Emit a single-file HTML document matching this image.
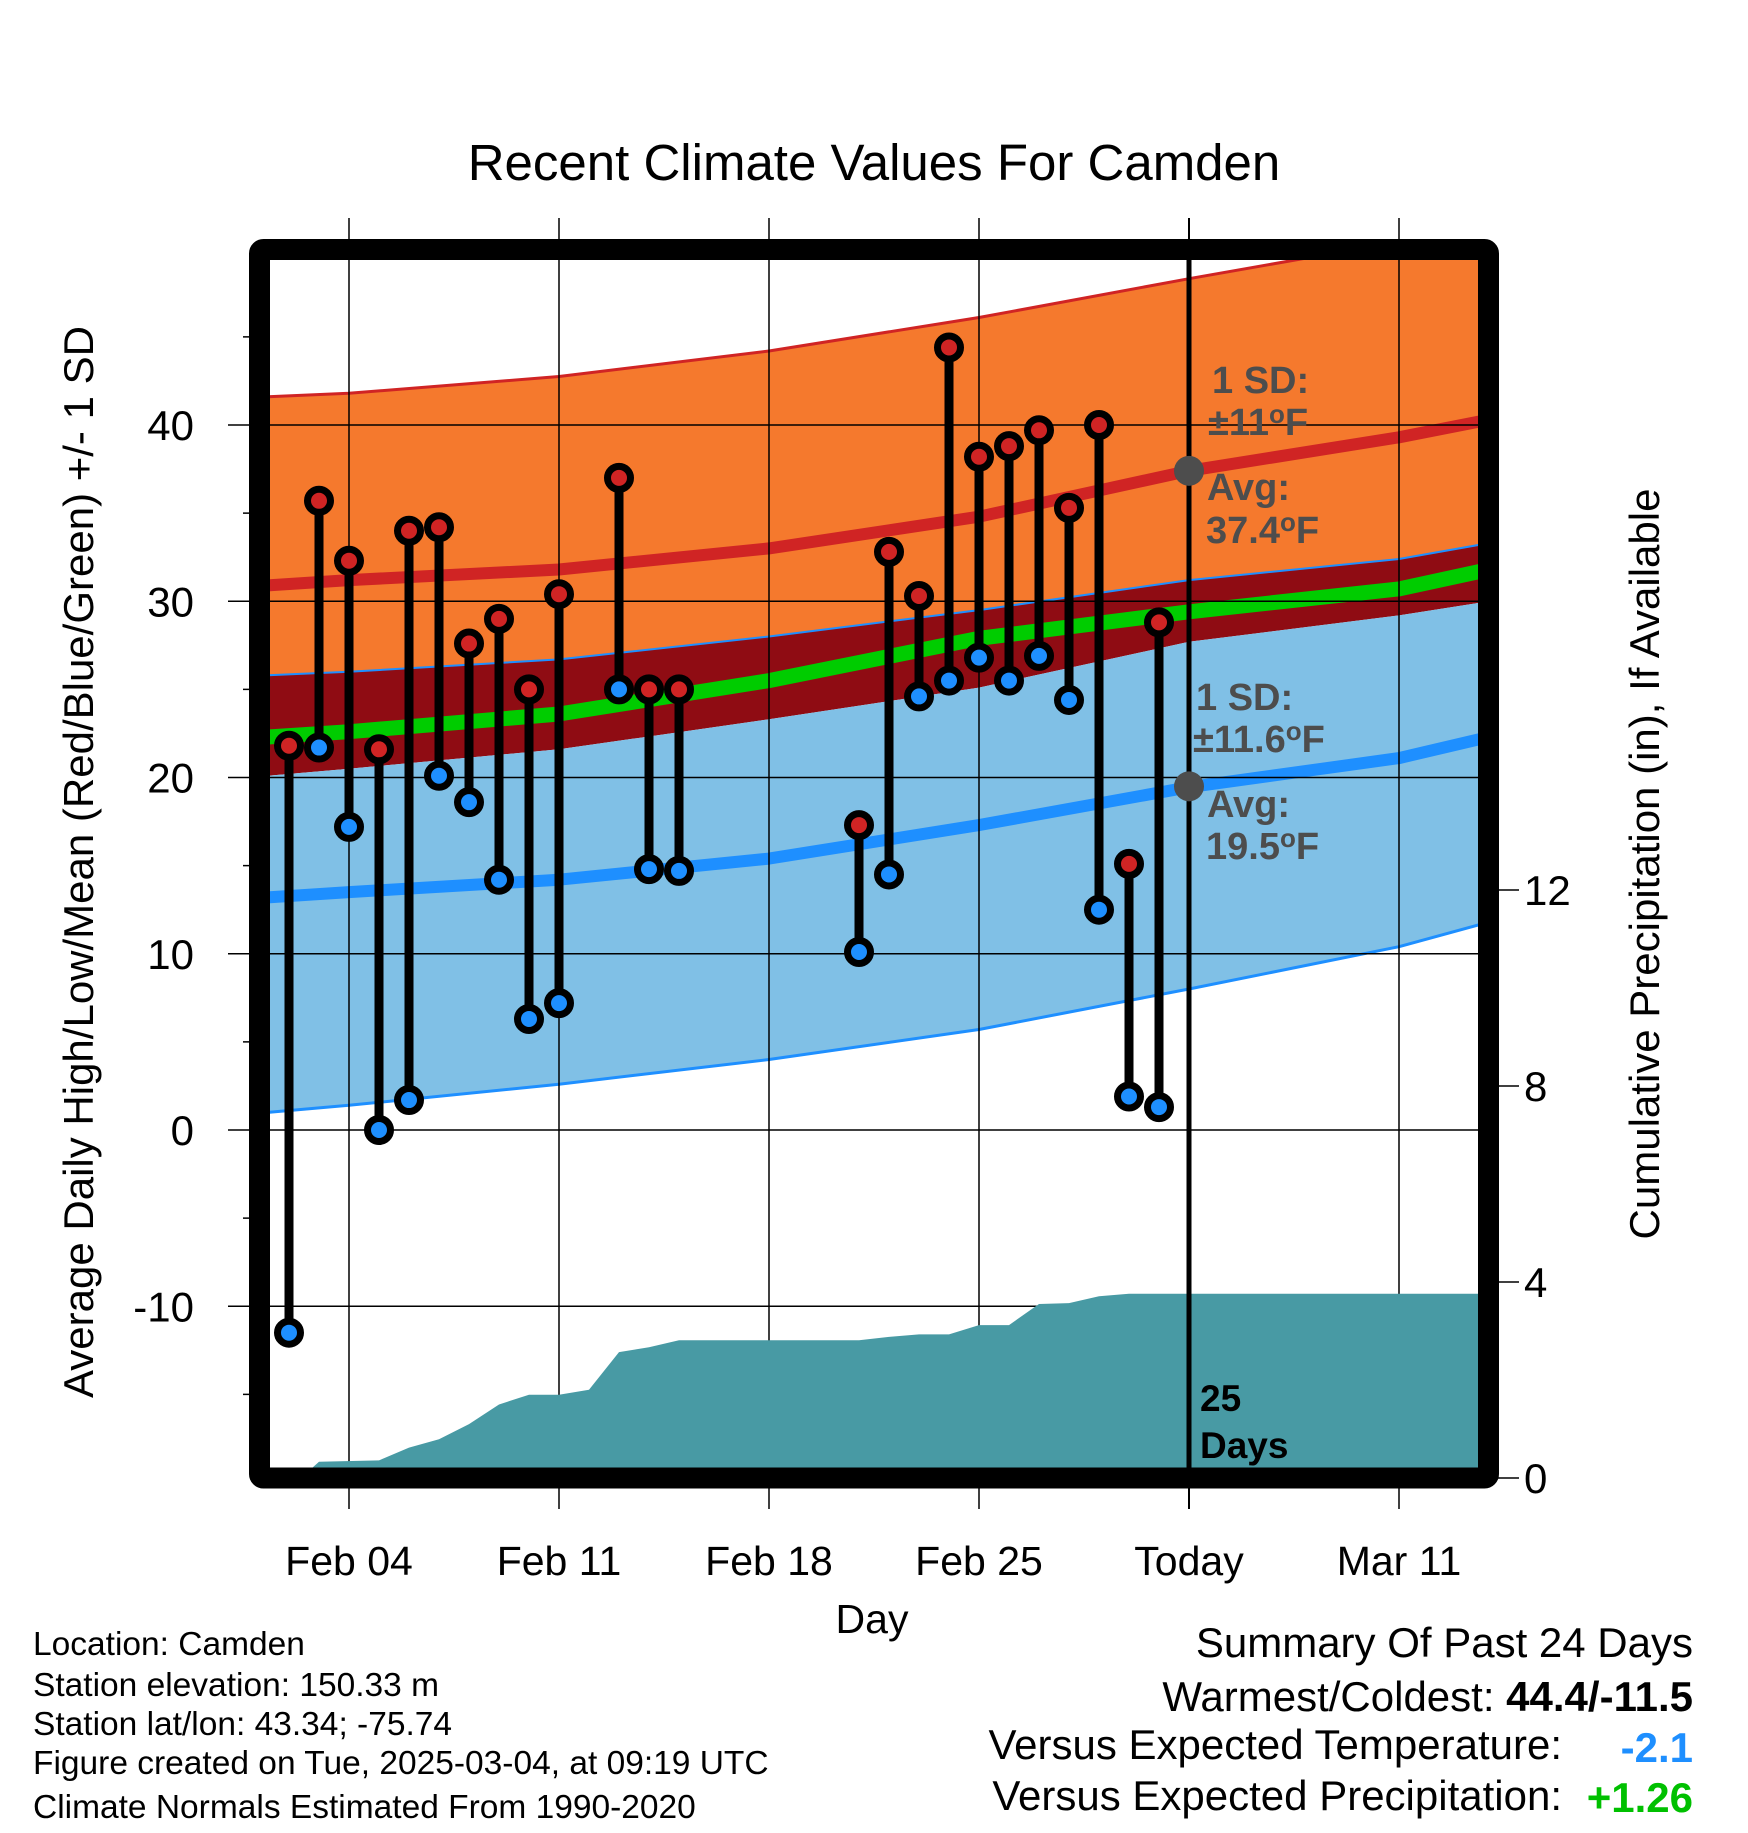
<!DOCTYPE html>
<html><head><meta charset="utf-8"><style>
body{margin:0;background:#fff}
svg text{font-family:"Liberation Sans",Arial,sans-serif}
</style></head><body>
<svg id="chart" width="1748" height="1828" viewBox="0 0 1748 1828" xmlns="http://www.w3.org/2000/svg">
<g id="bands"></g><g id="grid"></g><g id="precip"></g><g id="lines"></g><g id="marks"></g><g id="annot"></g><g id="frame"></g><g id="labels"></g>
</svg>
<script>
// ---- data ----
const days = [2,3,4,5,6,7,8,9,10,11,13,14,15,21,22,23,24,25,26,27,28,29,30,31];
const highs = [21.8,35.7,32.3,21.6,34.0,34.2,27.6,29.0,25.0,30.4,37.0,25.0,25.0,17.3,32.8,30.3,44.4,38.2,38.8,39.7,35.3,40.0,15.1,28.8];
const lows = [-11.5,21.7,17.2,0.0,1.7,20.1,18.6,14.2,6.3,7.2,25.0,14.8,14.7,10.1,14.5,24.6,25.5,26.8,25.5,26.9,24.4,12.5,1.9,1.3];
const normDays = [1.3,4,11,18,25,32,39,42];
const avgHigh = [30.9,31.2,31.8,33.0,34.8,37.4,39.3,40.3];
const highPlusSD = [41.6,41.8,42.75,44.2,46.1,48.3,50.4,51.2];
const lowPlusSD = [25.8,26.0,26.7,28.0,29.5,31.2,32.4,33.3];
const meanTemp = [22.3,22.6,23.6,25.5,27.9,29.4,30.7,31.8];
const highMinusSD = [20.1,20.5,21.6,23.3,25.1,27.7,29.2,30.0];
const avgLow = [13.2,13.5,14.2,15.4,17.3,19.45,21.1,22.3];
const lowMinusSD = [1.0,1.4,2.6,4.0,5.7,8.0,10.4,11.8];
const precipDays = [1.3,2.4,3,5,6,7,8,9,10,11,12,13,14,15,21,22,23,24,25,26,27,28,29,30,42];
const precipCum = [0,0,0.33,0.36,0.62,0.79,1.1,1.5,1.7,1.7,1.8,2.57,2.67,2.81,2.81,2.88,2.93,2.93,3.12,3.12,3.55,3.57,3.71,3.76,3.76];
const xTickDays = [4,11,18,25,32,39];
const xTickLabels = ["Feb 04","Feb 11","Feb 18","Feb 25","Today","Mar 11"];
const yTicks = [-10,0,10,20,30,40];
const yMinor = [-15,-5,5,15,25,35,45];
const pTicks = [0,4,8,12];

// ---- axes ----
const L=259.5,R=1488.5,T=249.5,B=1478;
const X=d=>349+(d-4)*30;
const Y=v=>1130-v*17.625;
const P=v=>B-v*49;
const NS="http://www.w3.org/2000/svg";
function mk(parent,tag,attrs){const e=document.createElementNS(NS,tag);for(const k in attrs)e.setAttribute(k,attrs[k]);document.getElementById(parent).appendChild(e);return e;}
function pts(xs,ys,f){return xs.map((d,i)=>X(d).toFixed(1)+","+f(ys[i]).toFixed(1));}

const defs=document.createElementNS(NS,"defs");
defs.innerHTML='<clipPath id="clip"><rect x="'+L+'" y="'+T+'" width="'+(R-L)+'" height="'+(B-T)+'"/></clipPath>';
document.getElementById("chart").prepend(defs);
["bands","precip","lines","marks"].forEach(id=>document.getElementById(id).setAttribute("clip-path","url(#clip)"));

function band(top,bot,fill,name){
  const p=pts(normDays,top,Y).concat(pts(normDays,bot,Y).reverse());
  const e=mk("bands","polygon",{points:p.join(" "),fill:fill});
  
  
}
band(highPlusSD,lowPlusSD,"#f5792d","high-sd-band");
band(lowPlusSD,highMinusSD,"#8f0c13","overlap-band");
band(highMinusSD,lowMinusSD,"#80c0e6","low-sd-band");
function line(arr,col,w,name,g){
  const e=mk(g||"lines","polyline",{points:pts(normDays,arr,Y).join(" "),fill:"none",stroke:col,"stroke-width":w,"stroke-linejoin":"round"});
  
  
}
line(highPlusSD,"#d02424",3,"high-plus-sd-line","bands");
line(lowPlusSD,"#1e8fff",2,"low-plus-sd-line","bands");
line(meanTemp,"#00cc00",15,"mean-line","bands");
line(avgHigh,"#d02424",12,"avg-high-line","bands");
line(avgLow,"#1e8fff",12,"avg-low-line","bands");
line(lowMinusSD,"#1e8fff",3,"low-minus-sd-line","bands");

xTickDays.forEach((d,i)=>{
  const g=mk("grid","line",{x1:X(d),x2:X(d),y1:218,y2:1509,stroke:"#000","stroke-width":i==4?0:1.5});
  
  
  const t=mk("labels","text",{x:X(d),y:1575,"font-size":41,"text-anchor":"middle"});
  t.textContent=xTickLabels[i];
  
  
});
yTicks.forEach(v=>{
  const g=mk("grid","line",{x1:228,x2:R,y1:Y(v),y2:Y(v),stroke:"#000","stroke-width":1.5});
  
  
  const t=mk("labels","text",{x:194,y:Y(v)+15,"font-size":42,"text-anchor":"end"});
  t.textContent=v;
  
  
});
yMinor.forEach(v=>{
  const g=mk("grid","line",{x1:243,x2:L,y1:Y(v),y2:Y(v),stroke:"#000","stroke-width":1.5});
  
  
});
pTicks.forEach(v=>{
  const g=mk("grid","line",{x1:R,x2:1519,y1:P(v),y2:P(v),stroke:"#000","stroke-width":1.5});
  
  
  const t=mk("labels","text",{x:1524,y:P(v)+15,"font-size":42});
  t.textContent=v;
  
  
});

{
  const p=pts(precipDays,precipCum,P);
  p.push(X(precipDays[precipDays.length-1])+","+B, X(precipDays[0])+","+B);
  const e=mk("precip","polygon",{points:p.join(" "),fill:"#489aa4"});
  
  
}

{
  const e=mk("lines","line",{x1:X(32),x2:X(32),y1:T,y2:B,stroke:"#000","stroke-width":5});
  
  
  const t=mk("grid","line",{x1:X(32),x2:X(32),y1:218,y2:1509,stroke:"#000","stroke-width":2});
  
  
}

days.forEach((d,i)=>{
  const s=mk("marks","line",{x1:X(d),x2:X(d),y1:Y(highs[i]),y2:Y(lows[i]),stroke:"#000","stroke-width":9});
  
  
});
days.forEach((d,i)=>{
  const h=mk("marks","circle",{cx:X(d),cy:Y(highs[i]),r:11.5,fill:"#d02424",stroke:"#000","stroke-width":7});
  
  
  const l=mk("marks","circle",{cx:X(d),cy:Y(lows[i]),r:11.5,fill:"#1e8fff",stroke:"#000","stroke-width":7});
  
  
});

function txt(g,x,y,s,str,attrs,name){const t=mk(g,"text",Object.assign({x:x,y:y,"font-size":s},attrs||{}));t.innerHTML=str;return t;}
{
  const a=mk("annot","circle",{cx:X(32),cy:Y(37.4),r:15,fill:"#4d4d4d"});
  
  
  const b=mk("annot","circle",{cx:X(32),cy:Y(19.5),r:15,fill:"#4d4d4d"});
  
  
}
const ga={"font-weight":"bold",fill:"#4d4d4d"};
txt("annot",1212,393,38,"1 SD:",ga,"high-sd-label");
txt("annot",1208,435,38,'±11<tspan font-size="26" dy="-12">o</tspan><tspan dy="12">F</tspan>',ga,"high-sd-value");
txt("annot",1207,500,38,"Avg:",ga,"avg-high-label");
txt("annot",1206,543,38,'37.4<tspan font-size="26" dy="-12">o</tspan><tspan dy="12">F</tspan>',ga,"avg-high-value");
txt("annot",1196,710,38,"1 SD:",ga,"low-sd-label");
txt("annot",1193,752,38,'±11.6<tspan font-size="26" dy="-12">o</tspan><tspan dy="12">F</tspan>',ga,"low-sd-value");
txt("annot",1207,817,38,"Avg:",ga,"avg-low-label");
txt("annot",1206,859,38,'19.5<tspan font-size="26" dy="-12">o</tspan><tspan dy="12">F</tspan>',ga,"avg-low-value");
txt("annot",1200,1411,37,"25",{"font-weight":"bold"},"days-count");
txt("annot",1200,1458,37,"Days",{"font-weight":"bold"},"days-label");

{
  const f=mk("frame","rect",{x:L,y:T,width:R-L,height:B-T,fill:"none",stroke:"#000","stroke-width":21,rx:4});
  
  
}

txt("labels",874,180,51,"Recent Climate Values For Camden",{"text-anchor":"middle"},"chart-title");
txt("labels",872,1633,41,"Day",{"text-anchor":"middle"},"x-axis-title");
txt("labels",0,0,42,"Average Daily High/Low/Mean (Red/Blue/Green) +/- 1 SD",{"text-anchor":"middle",transform:"translate(93,862) rotate(-90)"},"y-axis-title");
txt("labels",0,0,42,"Cumulative Precipitation (in), If Available",{"text-anchor":"middle",transform:"translate(1659,864) rotate(-90)"},"precip-axis-title");
const info=["Location: Camden","Station elevation: 150.33 m","Station lat/lon: 43.34; -75.74","Figure created on Tue, 2025-03-04, at 09:19 UTC","Climate Normals Estimated From 1990-2020"];
const infoY=[1655,1696,1735,1774,1818];
info.forEach((s,i)=>txt("labels",33,infoY[i],33.5,s,{},"station-info-line"));
txt("labels",1693,1657,42,"Summary Of Past 24 Days",{"text-anchor":"end"},"summary-title");
txt("labels",1693,1711,42,'Warmest/Coldest: <tspan font-weight="bold">44.4/-11.5</tspan>',{"text-anchor":"end"},"warmest-coldest");
txt("labels",1562,1759,42,"Versus Expected Temperature:",{"text-anchor":"end"},"temp-anomaly-label");
txt("labels",1693,1762,42,"-2.1",{"text-anchor":"end","font-weight":"bold",fill:"#1e8fff"},"temp-anomaly-value");
txt("labels",1562,1810,42,"Versus Expected Precipitation:",{"text-anchor":"end"},"precip-anomaly-label");
txt("labels",1693,1812,42,"+1.26",{"text-anchor":"end","font-weight":"bold",fill:"#00c000"},"precip-anomaly-value");
</script>
</body></html>
